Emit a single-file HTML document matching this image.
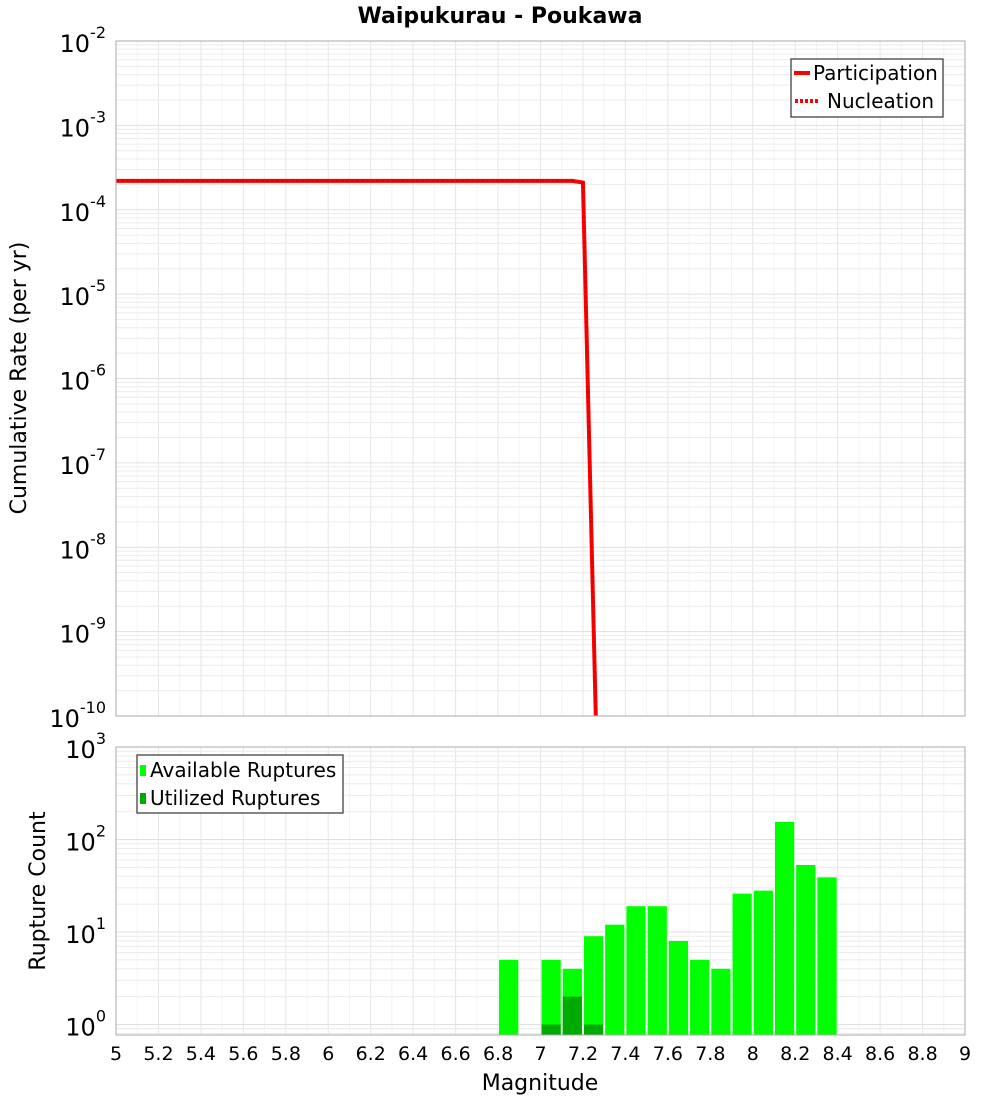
<!DOCTYPE html>
<html><head><meta charset="utf-8"><style>
body{margin:0;background:#fff;}
svg{display:block;font-family:"DejaVu Sans","Liberation Sans",sans-serif;}
</style></head><body>
<svg id="c" width="1000" height="1100" xmlns="http://www.w3.org/2000/svg">
<text x="500" y="23" text-anchor="middle" font-size="22" font-weight="bold">Waipukurau - Poukawa</text>
<g id="topPlot"></g>
<g id="botPlot"></g>
<text transform="translate(26,378) rotate(-90)" text-anchor="middle" font-size="22">Cumulative Rate (per yr)</text>
<text transform="translate(45,891) rotate(-90)" text-anchor="middle" font-size="22">Rupture Count</text>
<text x="540" y="1090" text-anchor="middle" font-size="22">Magnitude</text>
<g id="legends">
<g>
<rect x="791" y="59" width="152" height="58" fill="#fff" stroke="#333" stroke-width="1.2"/>
<line x1="794" y1="73" x2="810" y2="73" stroke="#f00" stroke-width="4"/>
<text x="813" y="80" font-size="20">Participation</text>
<line x1="795" y1="101" x2="820" y2="101" stroke="#f00" stroke-width="4" stroke-dasharray="3,2"/>
<text x="827" y="108" font-size="20">Nucleation</text>
</g>
<g>
<rect x="137" y="755" width="206" height="58" fill="#fff" stroke="#333" stroke-width="1.2"/>
<rect x="140" y="765" width="6" height="11" fill="#00ff00"/>
<text x="150" y="777" font-size="20">Available Ruptures</text>
<rect x="140" y="793" width="6" height="11" fill="#00aa00"/>
<text x="150" y="805" font-size="20">Utilized Ruptures</text>
</g>
</g>
</svg>
<script>
const rateMags = [5.0, 7.15, 7.2, 7.27];
const partRates = [2.2e-4, 2.2e-4, 2.1e-4, 1e-11];
const nuclRates = [2.2e-4, 2.2e-4, 2.1e-4, 1e-11];
const binStarts = [6.8, 7.0, 7.1, 7.2, 7.3, 7.4, 7.5, 7.6, 7.7, 7.8, 7.9, 8.0, 8.1, 8.2, 8.3];
const available = [5, 5, 4, 9, 12, 19, 19, 8, 5, 4, 26, 28, 155, 53, 39];
const utilized = [0, 1, 2, 1, 0, 0, 0, 0, 0, 0, 0, 0, 0, 0, 0];
const xTicks = ["5","5.2","5.4","5.6","5.8","6","6.2","6.4","6.6","6.8","7","7.2","7.4","7.6","7.8","8","8.2","8.4","8.6","8.8","9"];
const topExps = [-2,-3,-4,-5,-6,-7,-8,-9,-10];
const botExps = [3,2,1,0];

const NS="http://www.w3.org/2000/svg";
const X0=116,X1=965;
const xs=m=>X0+(m-5)/4*(X1-X0);
const TT=41,TB=716;
const yTop=v=>TT+(-2-Math.log10(v))*(TB-TT)/8;
const BT=747,BB=1035,BD=92.5;
const yBot=v=>BT+(3-Math.log10(v))*BD;
function mk(p,t,a){const e=document.createElementNS(NS,t);for(const k in a)e.setAttribute(k,a[k]);p.appendChild(e);return e;}
const svgEl=document.getElementById('c');
const topG=document.getElementById('topPlot'), botG=document.getElementById('botPlot');
const defs=mk(svgEl,'defs',{});
const c1=mk(defs,'clipPath',{id:'ct'});mk(c1,'rect',{x:X0,y:TT,width:X1-X0,height:TB-TT});
const c2=mk(defs,'clipPath',{id:'cb'});mk(c2,'rect',{x:X0,y:BT,width:X1-X0,height:BB-BT});

function grid(g,yt,yb,yf,exps){
  for(let i=0;i<=40;i++){const xx=xs(5+i*0.1);mk(g,'line',{x1:xx,x2:xx,y1:yt,y2:yb,stroke:i%2?'#f3f3f3':'#e6e6e6','stroke-width':1});}
  for(let e=Math.min(...exps)-1;e<=Math.max(...exps);e++){for(let k=1;k<10;k++){const yy=yf(k*Math.pow(10,e));if(yy<yt||yy>yb)continue;mk(g,'line',{x1:X0,x2:X1,y1:yy,y2:yy,stroke:k==1?'#e0e0e0':'#ececec','stroke-width':1});}}
}
grid(topG,TT,TB,yTop,topExps);
grid(botG,BT,BB,yBot,botExps);

const lg=mk(topG,'g',{'clip-path':'url(#ct)'});
function pts(ys){return rateMags.map((m,i)=>xs(m)+','+yTop(ys[i])).join(' ');}
const p1=mk(lg,'polyline',{points:pts(partRates),fill:'none',stroke:'#f00','stroke-width':4});


const p2=mk(lg,'polyline',{points:pts(nuclRates),fill:'none',stroke:'#d00','stroke-width':2,'stroke-dasharray':'3,2'});



const bg=mk(botG,'g',{'clip-path':'url(#cb)'});
binStarts.forEach((m,i)=>{
  const xl=xs(m)+1,w=xs(m+0.1)-xs(m)-2;
  const yv=yBot(available[i]);
  const r=mk(bg,'rect',{x:xl,y:yv,width:w,height:BB-yv,fill:'#00ff00'});
  
  
  if(utilized[i]>0){const yu=yBot(utilized[i]);
    const u=mk(bg,'rect',{x:xl,y:yu,width:w,height:BB-yu,fill:'#00aa00'});
    
    }
});

mk(topG,'rect',{x:X0,y:TT,width:X1-X0,height:TB-TT,fill:'none',stroke:'#aaa','stroke-width':1});
mk(botG,'rect',{x:X0,y:BT,width:X1-X0,height:BB-BT,fill:'none',stroke:'#aaa','stroke-width':1});

function ylab(g,yy,e){const t=mk(g,'text',{x:106,y:yy+11,'text-anchor':'end','font-size':24});
  
  
  t.textContent='10';const s=mk(t,'tspan',{dy:-14,'font-size':16});s.textContent=String(e);}
topExps.forEach(e=>ylab(topG,yTop(Math.pow(10,e)),e));
botExps.forEach(e=>ylab(botG,yBot(Math.pow(10,e)),e));
xTicks.forEach(s=>{const t=mk(botG,'text',{x:xs(parseFloat(s)),y:1060,'text-anchor':'middle','font-size':19});
  
  
  t.textContent=s;});
svgEl.appendChild(document.getElementById('legends'));
</script>
</body></html>
